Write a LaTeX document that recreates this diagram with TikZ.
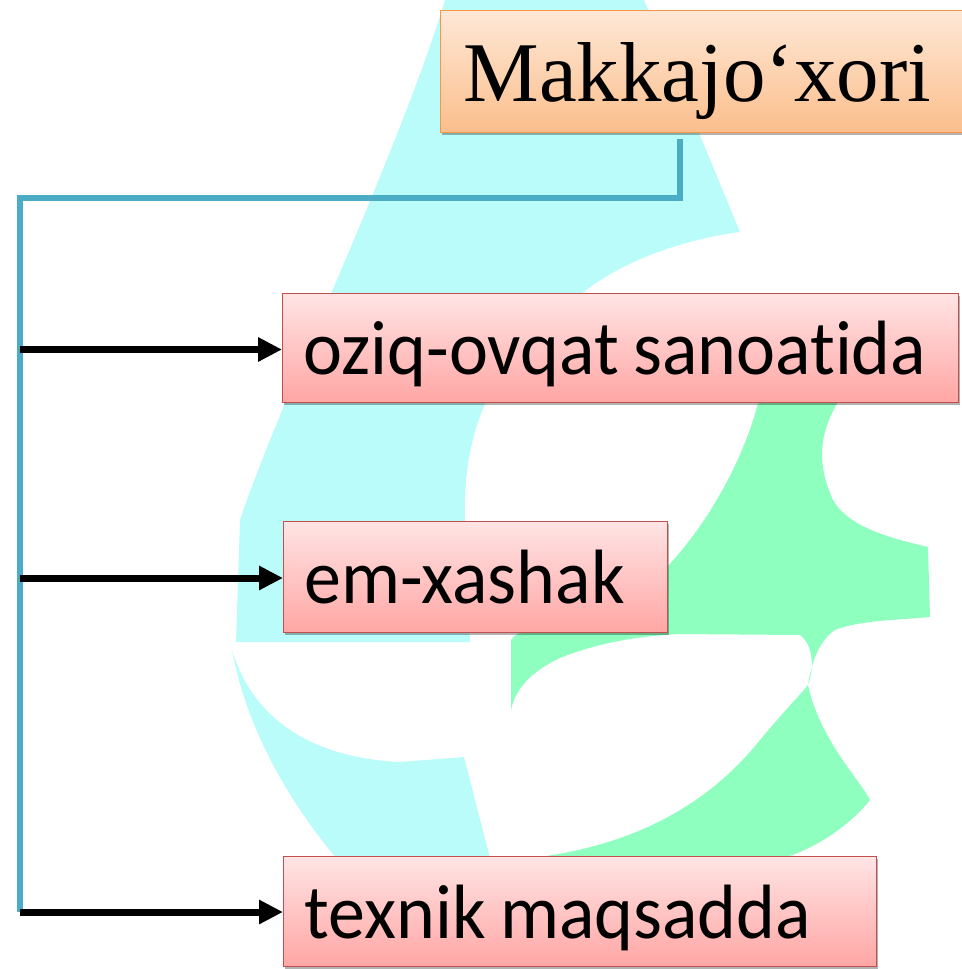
\documentclass[tikz,border=0pt]{standalone}
\usepackage{fontspec}
\setmainfont{Liberation Serif}
\newfontfamily\carlito[Ligatures=NoCommon,FakeStretch=0.96]{Carlito}
\newcommand\pinkfontsel{\carlito\fontsize{77}{84}\selectfont\hyphenpenalty=10000\relax}
\usetikzlibrary{arrows.meta,shadows}
\definecolor{cyanbg}{RGB}{186,252,250}
\definecolor{greenbg}{RGB}{143,255,192}
\definecolor{linkblue}{RGB}{75,172,198}
\definecolor{pinkedge}{RGB}{192,80,77}
\definecolor{orangeedge}{RGB}{247,150,70}
\definecolor{pinktop}{RGB}{255,228,228}
\definecolor{pinkbot}{RGB}{255,166,164}
\definecolor{peachtop}{RGB}{254,232,214}
\definecolor{peachbot}{RGB}{251,190,140}
\begin{document}
\begin{tikzpicture}[x=1pt,y=-1pt,
  boxshadow/.style={drop shadow={shadow xshift=1.5pt,shadow yshift=-2.5pt,opacity=0.3,fill=black}},
  pinkbox/.style={draw=pinkedge,line width=1.3pt,top color=pinktop,bottom color=pinkbot,
    anchor=north west,inner xsep=21pt,inner ysep=0pt,align=left,boxshadow,text depth=0pt,
    font=\pinkfontsel},
  topbox/.style={draw=orangeedge,line width=1.3pt,top color=peachtop,bottom color=peachbot,
    anchor=north west,inner xsep=23pt,inner ysep=0pt,align=left,boxshadow,text depth=0pt,
    font=\fontsize{85}{92}\selectfont},
  bluelink/.style={draw=linkblue,line width=6.5pt,line join=miter},
  arrowline/.style={draw=black,line width=7pt,-{Triangle[length=24pt,width=23pt]}}]
\useasboundingbox (0,0) rectangle (961,969);
% background watermark
\fill[cyanbg] (445,0) -- (644,0) -- (740,232)
  .. controls (680,240) and (620,262) .. (580,295)
  .. controls (500,350) and (462,420) .. (465,520) -- (470,642) -- (236,642)
  -- (240,520) .. controls (280,400) and (400,150) .. (445,0) -- cycle;
\fill[cyanbg] (232,650) .. controls (250,710) and (300,757) .. (400,762)
  -- (464,757) -- (490,858) -- (336,858)
  .. controls (280,790) and (245,720) .. (232,650) -- cycle;
\fill[greenbg] (511,710) .. controls (515,690) and (530,672) .. (560,658)
  .. controls (600,642) and (640,636) .. (680,634) -- (800,635)
  .. controls (814,645) and (814,670) .. (808,685)
  .. controls (812,660) and (820,640) .. (835,630)
  .. controls (860,620) and (900,620) .. (930,617) -- (928,547)
  .. controls (900,540) and (850,530) .. (833,500)
  .. controls (815,460) and (820,430) .. (842,395) -- (760,395)
  .. controls (750,440) and (720,510) .. (667,567)
  .. controls (600,600) and (520,625) .. (511,640) -- cycle;
\fill[greenbg] (808,685) .. controls (820,740) and (860,780) .. (870,800)
  .. controls (850,825) and (820,845) .. (790,856) -- (546,856)
  .. controls (620,845) and (700,815) .. (760,740)
  .. controls (785,710) and (800,695) .. (808,685) -- cycle;
% boxes
\node[topbox,minimum height=122pt,text width=490pt] (top) at (440,10) {Makkajo‘xori};
\node[pinkbox,minimum height=109pt,text width=634pt] (b1) at (282,293) {oziq-ovqat\kern-11pt\ sanoatida};
\node[pinkbox,minimum height=111pt,text width=342pt] (b2) at (283,521) {em-xashak};
\node[pinkbox,minimum height=110pt,text width=551pt] (b3) at (283,856) {texnik\kern-11pt\ maqsadda};
% connectors
\coordinate (t) at (680,139);
\coordinate (c) at (20,198);
\coordinate (j1) at (20,349.5);
\coordinate (j2) at (20,578);
\coordinate (j3) at (20,912);
\draw[bluelink] (t) |- (c) -- (j3);
\draw[arrowline] (j1) -- (j1 -| b1.west);
\draw[arrowline] (j2) -- (j2 -| b2.west);
\draw[arrowline] (j3) -- (j3 -| b3.west);
\end{tikzpicture}
\end{document}
